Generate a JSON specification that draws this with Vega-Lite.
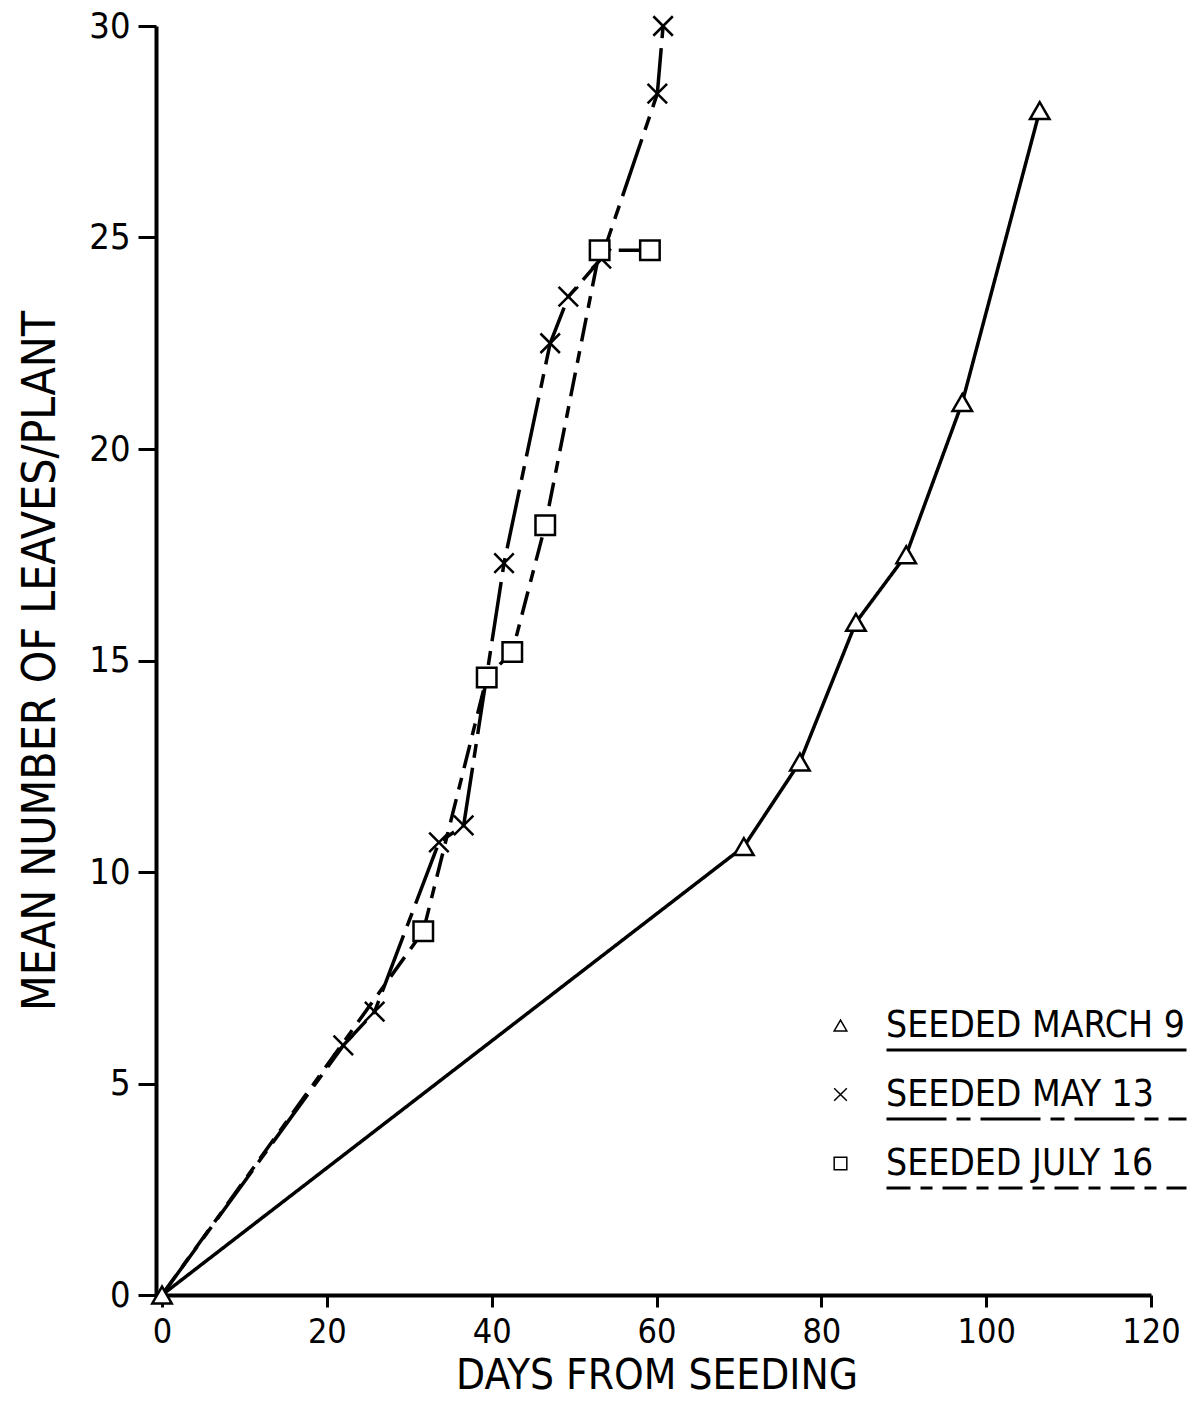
{
  "$schema": "https://vega.github.io/schema/vega-lite/v6.json",
  "width": 989,
  "height": 1269,
  "autosize": {"type": "none"},
  "padding": {"left": 162, "top": 26, "right": 45, "bottom": 110},
  "background": "white",
  "config": {
    "view": {"stroke": null},
    "font": "DejaVu Sans Condensed",
    "axis": {
      "grid": false,
      "domainColor": "black",
      "domainWidth": 4,
      "tickColor": "black",
      "tickWidth": 3,
      "labelColor": "black",
      "labelFontSize": 34,
      "labelFont": "DejaVu Sans Condensed",
      "titleFont": "DejaVu Sans Condensed",
      "titleColor": "black",
      "titleFontSize": 42,
      "titleFontWeight": "normal",
      "labelFlush": false,
      "labelOverlap": false
    },
    "legend": {"padding": 0}
  },
  "data": {
    "values": [
      {"series": "SEEDED MARCH 9", "day": 0, "leaves": 0},
      {"series": "SEEDED MARCH 9", "day": 70.6, "leaves": 10.6},
      {"series": "SEEDED MARCH 9", "day": 77.4, "leaves": 12.6},
      {"series": "SEEDED MARCH 9", "day": 84.2, "leaves": 15.9},
      {"series": "SEEDED MARCH 9", "day": 90.3, "leaves": 17.5},
      {"series": "SEEDED MARCH 9", "day": 97.1, "leaves": 21.1},
      {"series": "SEEDED MARCH 9", "day": 106.5, "leaves": 28.0},
      {"series": "SEEDED MAY 13", "day": 0, "leaves": 0},
      {"series": "SEEDED MAY 13", "day": 22.0, "leaves": 5.9},
      {"series": "SEEDED MAY 13", "day": 25.8, "leaves": 6.7},
      {"series": "SEEDED MAY 13", "day": 33.6, "leaves": 10.7},
      {"series": "SEEDED MAY 13", "day": 36.6, "leaves": 11.1},
      {"series": "SEEDED MAY 13", "day": 41.5, "leaves": 17.3},
      {"series": "SEEDED MAY 13", "day": 47.1, "leaves": 22.5},
      {"series": "SEEDED MAY 13", "day": 49.3, "leaves": 23.6},
      {"series": "SEEDED MAY 13", "day": 53.3, "leaves": 24.5},
      {"series": "SEEDED MAY 13", "day": 60.1, "leaves": 28.4},
      {"series": "SEEDED MAY 13", "day": 60.8, "leaves": 30.0},
      {"series": "SEEDED JULY 16", "day": 0, "leaves": 0},
      {"series": "SEEDED JULY 16", "day": 31.7, "leaves": 8.6},
      {"series": "SEEDED JULY 16", "day": 39.4, "leaves": 14.6},
      {"series": "SEEDED JULY 16", "day": 42.5, "leaves": 15.2},
      {"series": "SEEDED JULY 16", "day": 46.5, "leaves": 18.2},
      {"series": "SEEDED JULY 16", "day": 53.1, "leaves": 24.7},
      {"series": "SEEDED JULY 16", "day": 59.2, "leaves": 24.7}
    ]
  },
  "encoding": {
    "x": {
      "field": "day",
      "type": "quantitative",
      "scale": {"domain": [0, 120], "nice": false},
      "axis": {
        "values": [0, 20, 40, 60, 80, 100, 120],
        "title": "DAYS FROM SEEDING",
        "tickSize": 12,
        "labelPadding": 8,
        "titlePadding": 6
      }
    },
    "y": {
      "field": "leaves",
      "type": "quantitative",
      "scale": {"domain": [0, 30], "nice": false},
      "axis": {
        "values": [0, 5, 10, 15, 20, 25, 30],
        "title": "MEAN NUMBER OF LEAVES/PLANT",
        "offset": 6,
        "tickSize": 18,
        "labelPadding": 8,
        "labelFontSize": 36,
        "titleFontSize": 46,
        "titlePadding": 24
      }
    }
  },
  "layer": [
    {
      "mark": {"type": "line", "color": "black", "strokeWidth": 3.5},
      "encoding": {
        "strokeDash": {
          "field": "series",
          "type": "nominal",
          "sort": ["SEEDED MARCH 9", "SEEDED MAY 13", "SEEDED JULY 16"],
          "scale": {"range": [[1, 0], [60, 10, 14, 10], [24, 10, 12, 10]]},
          "legend": {
            "title": null,
            "orient": "none",
            "legendX": 723,
            "legendY": 1014,
            "direction": "vertical",
            "symbolType": "stroke",
            "symbolSize": 90000,
            "symbolStrokeWidth": 3,
            "symbolStrokeColor": "black",
            "clipHeight": 20,
            "rowPadding": 49,
            "labelExpr": "''",
            "labelOffset": 0
          }
        }
      }
    },
    {
      "transform": [{"filter": "datum.day > 0 || datum.series == 'SEEDED MARCH 9'"}],
      "mark": {"type": "point", "color": "black", "fill": "white", "strokeWidth": 2.5, "size": 380, "opacity": 1},
      "encoding": {
        "shape": {
          "field": "series",
          "type": "nominal",
          "scale": {
            "domain": ["SEEDED MARCH 9", "SEEDED MAY 13", "SEEDED JULY 16"],
            "range": ["triangle-up", "M-1,-1L1,1M-1,1L1,-1", "square"]
          },
          "legend": {
            "title": null,
            "orient": "none",
            "legendX": 660,
            "legendY": 981,
            "direction": "vertical",
            "symbolSize": 160,
            "symbolOpacity": 1,
            "labelFontSize": 37,
            "labelFont": "DejaVu Sans Condensed",
            "labelColor": "black",
            "labelOffset": 27,
            "labelLimit": 0,
            "rowPadding": 31
          }
        }
      }
    }
  ]
}
